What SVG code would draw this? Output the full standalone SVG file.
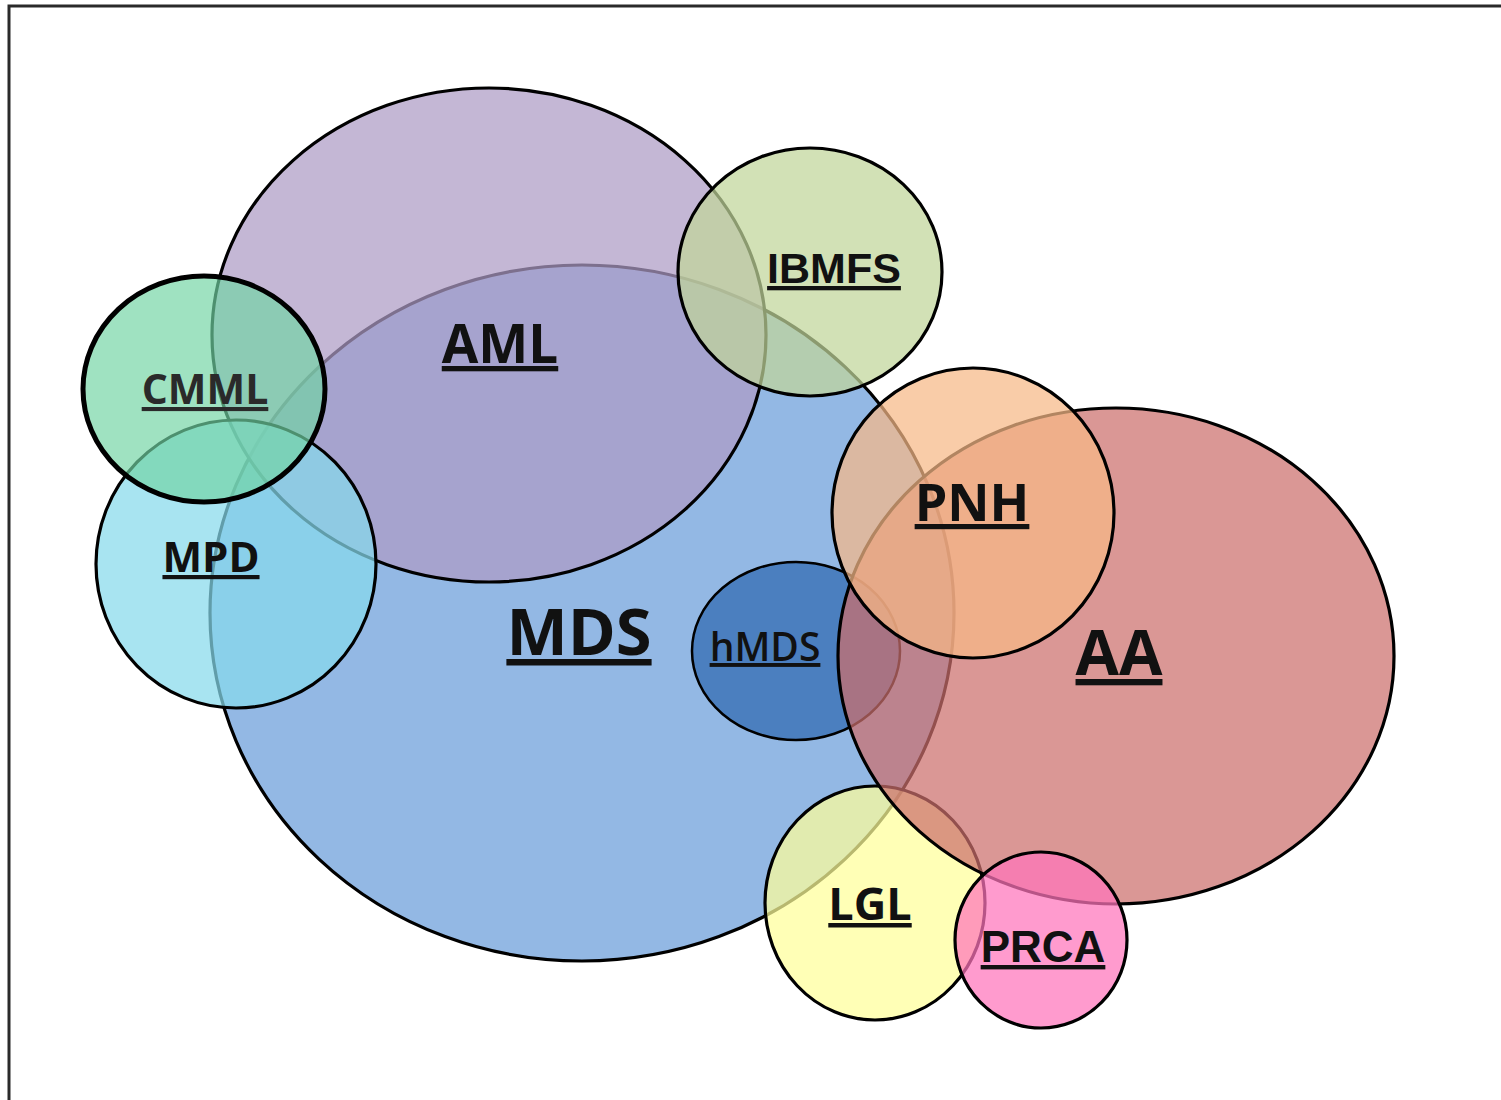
<svg xmlns="http://www.w3.org/2000/svg" width="1501" height="1100" viewBox="0 0 1501 1100">
<style>
.c{stroke:#000;stroke-width:3.2;fill-opacity:0.72}
.t{font-family:"Open Sans","Liberation Sans",sans-serif;font-weight:700;fill:#111;text-anchor:middle;text-decoration:underline}
.a{font-family:"Liberation Sans",Arial,sans-serif;font-weight:700;fill:#111;text-anchor:middle;text-decoration:underline}
</style>
<rect x="0" y="0" width="1501" height="1100" fill="#fff"/>
<rect x="9" y="6" width="1600" height="1200" fill="none" stroke="#2a2a2a" stroke-width="3"/>
<g id="MDS"><ellipse class="c" cx="582" cy="613" rx="372" ry="348" fill="#6a9cd9"/><text class="t" x="579" y="655" font-size="65">MDS</text></g>
<g id="AML"><ellipse class="c" cx="489" cy="335" rx="277" ry="247" fill="#ad9bc5"/><text class="t" x="500" y="363" font-size="53">AML</text></g>
<g id="MPD"><ellipse class="c" cx="236" cy="564" rx="140" ry="144" fill="#86d9eb"/><text class="t" x="211" y="572" font-size="42">MPD</text></g>
<g id="CMML"><ellipse class="c" cx="204" cy="389" rx="121" ry="113" fill="#72d4a3" stroke="#2b2b2b" style="stroke-width:5;fill-opacity:0.68"/><text class="t" x="205" y="404" font-size="41" style="fill:#2a2a2a">CMML</text></g>
<g id="IBMFS"><ellipse class="c" cx="810" cy="272" rx="132" ry="124" fill="#c1d69a"/><text class="a" x="834" y="283" font-size="43">IBMFS</text></g>
<g id="hMDS"><ellipse class="c" cx="796" cy="651" rx="104" ry="89" fill="#2f69b0" stroke="#2c5a8c" style="stroke-width:2.5"/><text class="t" x="765" y="661" font-size="39" style="font-weight:600">hMDS</text></g>
<g id="LGL"><ellipse class="c" cx="875" cy="903" rx="110" ry="117" fill="#ffff9a"/><text class="t" x="870" y="920" font-size="45">LGL</text></g>
<g id="AA"><ellipse class="c" cx="1116" cy="656" rx="278" ry="248" fill="#cc6f6c"/><text class="t" x="1119" y="675" font-size="63">AA</text></g>
<g id="PNH"><ellipse class="c" cx="973" cy="513" rx="141" ry="145" fill="#f7b887"/><text class="t" x="972" y="521" font-size="52">PNH</text></g>
<g id="PRCA"><ellipse class="c" cx="1041" cy="940" rx="86" ry="88" fill="#ff75bb"/><text class="a" x="1043" y="962" font-size="44">PRCA</text></g>
<g id="connectors"/>
</svg>
